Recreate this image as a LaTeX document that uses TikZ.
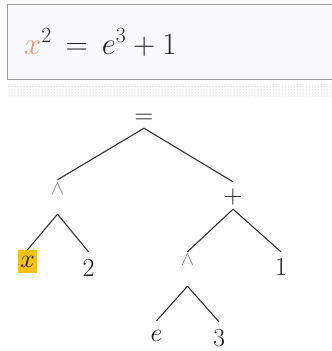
\documentclass[tikz,border=0pt]{standalone}
\usepackage{fix-cm}
\usetikzlibrary{patterns}
\definecolor{xorange}{HTML}{E4957A}
\definecolor{hiyellow}{HTML}{F2C21B}
\definecolor{edgecol}{HTML}{333333}
\definecolor{boxfill}{HTML}{F9FAFC}
\begin{document}
\begin{tikzpicture}[x=1pt,y=-1pt,
  lbl/.style={inner sep=0pt, anchor=base, font=\fontsize{26}{30}\selectfont, text=black!88},
  wedgelbl/.style={lbl, font=\fontsize{20}{24}\selectfont, text=gray},
  edge/.style={draw=edgecol, line width=1.1pt}]
\useasboundingbox (0,0) rectangle (332,351);
\fill[white] (0,0) rectangle (332,351);
% formula box
\draw[draw=gray!75, line width=1pt, fill=boxfill] (7.5,4) rectangle (345,79.5);
\node[anchor=base west, inner sep=0pt, font=\fontsize{31}{36}\selectfont, text=black!85] (formula) at (24,54)
  {$\textcolor{xorange}{x}^2 \,=\, e^3 + 1$};
% dotted band
\fill[pattern=dots, pattern color=gray!65] (7.5,84) rectangle (345,97);
% tree nodes (anchor=base, text height/depth set where edges meet)
\node[lbl, text height=15pt, text depth=4.5pt] (eq) at (144,123.5) {$=$};
\node[wedgelbl, text height=14.5pt, text depth=19.5pt] (w1) at (57.5,194.5) {$\wedge$};
\node[lbl, text height=21pt, text depth=6pt] (plus) at (233,203) {$+$};
\node[lbl, fill=hiyellow, minimum width=19pt, text height=17.5pt, text depth=5.5pt] (x) at (27.5,267.5) {$x$};
\node[lbl, text height=24pt, text depth=0pt] (two) at (88.5,276) {$2$};
\node[wedgelbl, text height=13.5pt, text depth=20.5pt] (w2) at (187.5,265.5) {$\wedge$};
\node[lbl, text height=23pt, text depth=0pt] (one) at (281,275) {$1$};
\node[lbl, text height=20pt, text depth=0pt] (e) at (156.5,341) {$e$};
\node[lbl, text height=24pt, text depth=0pt] (three) at (219,346) {$3$};
% edges
\draw[edge] (eq.south) -- (w1.north);
\draw[edge] (eq.south) -- (plus.north);
\draw[edge] (w1.south) -- (x.north);
\draw[edge] (w1.south) -- (two.north);
\draw[edge] (plus.south) -- (w2.north);
\draw[edge] (plus.south) -- (one.north);
\draw[edge] (w2.south) -- (e.north);
\draw[edge] (w2.south) -- (three.north);
\end{tikzpicture}
\end{document}
